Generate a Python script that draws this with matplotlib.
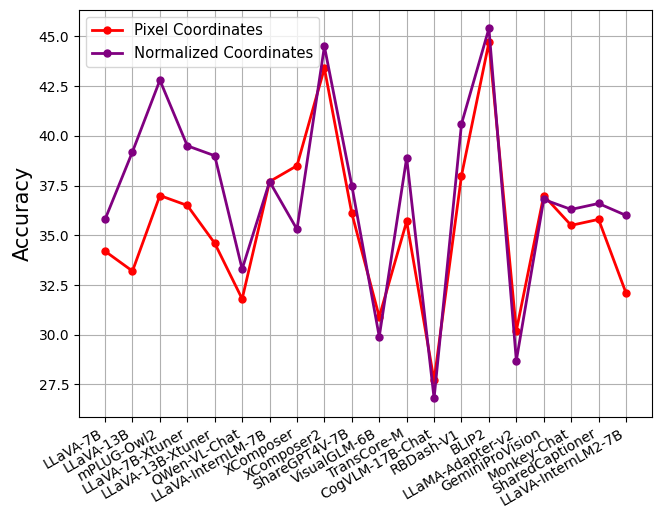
import matplotlib
matplotlib.use("Agg")
import matplotlib.pyplot as plt

models = ["LLaVA-7B", "LLaVA-13B", "mPLUG-Owl2", "LLaVA-7B-Xtuner", "LLaVA-13B-Xtuner",
          "QWen-VL-Chat", "LLaVA-InternLM-7B", "XComposer", "XComposer2", "ShareGPT4V-7B",
          "VisualGLM-6B", "TransCore-M", "CogVLM-17B-Chat", "RBDash-V1", "BLIP2",
          "LLaMA-Adapter-v2", "GeminiProVision", "Monkey-Chat", "SharedCaptioner",
          "LLaVA-InternLM2-7B"]
pixel = [34.2, 33.2, 37.0, 36.5, 34.6, 31.8, 37.7, 38.5, 43.4, 36.1,
         30.9, 35.7, 27.7, 38.0, 44.7, 30.2, 37.0, 35.5, 35.8, 32.1]
normalized = [35.8, 39.2, 42.8, 39.5, 39.0, 33.3, 37.7, 35.3, 44.5, 37.5,
              29.9, 38.9, 26.8, 40.6, 45.4, 28.7, 36.8, 36.3, 36.6, 36.0]

fig, ax = plt.subplots(figsize=(6.64, 5.25), dpi=100)
fig.subplots_adjust(left=0.119, right=0.982, top=0.981, bottom=0.206)

ax.plot(models, pixel, marker="o", color="red", markersize=5, linewidth=2, label="Pixel Coordinates")
ax.plot(models, normalized, marker="o", color="purple", markersize=5, linewidth=2, label="Normalized Coordinates")

ax.set_ylabel("Accuracy", fontsize=15)
ax.set_yticks([27.5, 30.0, 32.5, 35.0, 37.5, 40.0, 42.5, 45.0])
plt.xticks(rotation=30, ha="right")
ax.tick_params(labelsize=10)
ax.grid(True)
ax.legend(loc="upper left", fontsize=10.7)

fig.savefig("out.png", dpi=100)
